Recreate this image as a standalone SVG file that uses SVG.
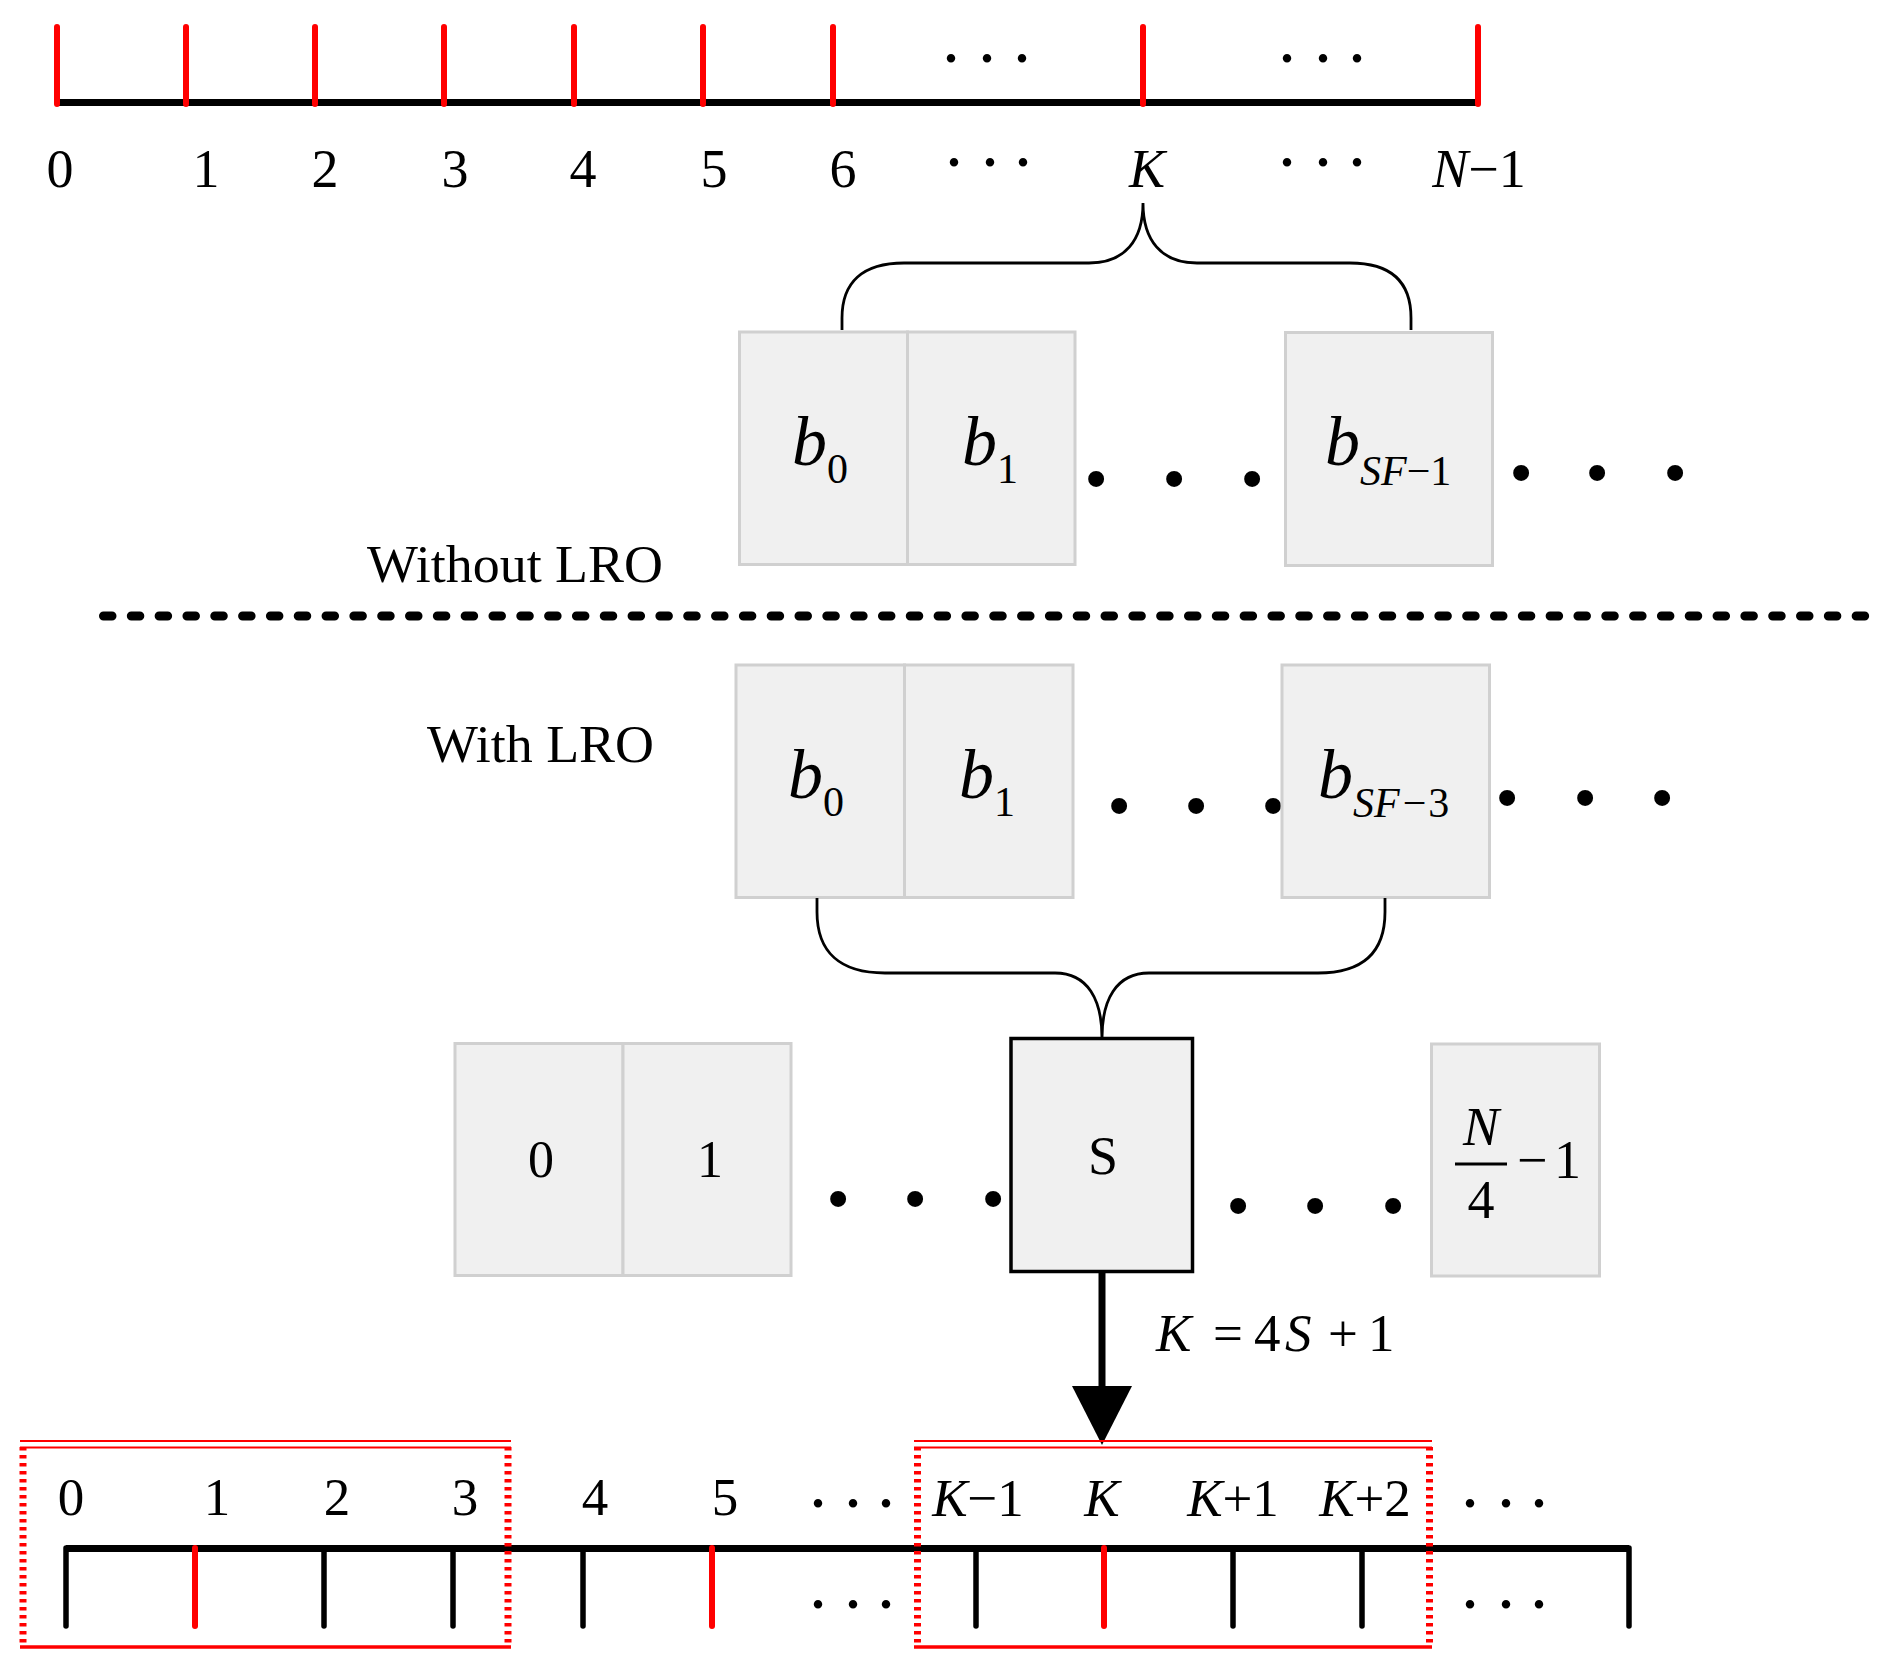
<svg xmlns="http://www.w3.org/2000/svg" width="1888" height="1670" viewBox="0 0 1888 1670">
<defs>
<style>
text{font-family:"Liberation Serif","Times New Roman",serif;fill:#000}
.it{font-style:italic}
.lbl{font-size:54px;text-anchor:middle}
.blbl{font-size:53px;text-anchor:middle}
.cell{fill:#f0f0f0;stroke:#d0d0d0;stroke-width:3}
.scell{fill:#f0f0f0;stroke:#000;stroke-width:3.5}
.axis{stroke:#000;stroke-width:7;fill:none}
.rt{stroke:#ff0000;stroke-width:6;stroke-linecap:round}
.bt{stroke:#000;stroke-width:5.5;stroke-linecap:round}
.brace{fill:none;stroke:#000;stroke-width:2.8}
.sdot{font-size:72px;text-anchor:middle}
.bdot{font-size:135px;text-anchor:middle}
.bsym{font-size:70px;font-style:italic}
.sub{font-size:42px;font-style:normal}
.cnum{font-size:52px;text-anchor:middle}
.red{stroke:#ff0000;fill:none}
.redv{stroke:#ff0000;stroke-width:7;stroke-dasharray:3.5 4.5}
.note{font-size:53px}
</style>
<marker id="ah" markerUnits="userSpaceOnUse" markerWidth="60" markerHeight="60" viewBox="0 0 59 60" refX="0" refY="30" orient="auto">
<path d="M0,0 L59,30 L0,60 z" fill="#000"/>
</marker>
</defs>
<rect width="1888" height="1670" fill="#fff"/>

<g id="top-axis">
<line class="axis" x1="57" y1="102.5" x2="1478" y2="102.5"/>
<line class="rt" x1="57" y1="27" x2="57" y2="104"/>
<line class="rt" x1="186" y1="27" x2="186" y2="104"/>
<line class="rt" x1="315" y1="27" x2="315" y2="104"/>
<line class="rt" x1="444" y1="27" x2="444" y2="104"/>
<line class="rt" x1="574" y1="27" x2="574" y2="104"/>
<line class="rt" x1="703" y1="27" x2="703" y2="104"/>
<line class="rt" x1="833" y1="27" x2="833" y2="104"/>
<line class="rt" x1="1143" y1="27" x2="1143" y2="104"/>
<line class="rt" x1="1478" y1="27" x2="1478" y2="104"/>
<text class="sdot" x="951 987 1022" y="61.5">...</text>
<text class="sdot" x="1287 1323 1357" y="61.5">...</text>
<text class="lbl" x="60" y="187">0</text>
<text class="lbl" x="206" y="187">1</text>
<text class="lbl" x="325" y="187">2</text>
<text class="lbl" x="455" y="187">3</text>
<text class="lbl" x="583" y="187">4</text>
<text class="lbl" x="714" y="187">5</text>
<text class="lbl" x="843" y="187">6</text>
<text class="sdot" x="954 990 1023" y="165.5">...</text>
<text class="lbl it" x="1147" y="187">K</text>
<text class="sdot" x="1287 1323 1357" y="165.5">...</text>
<text class="lbl" x="1479" y="187"><tspan class="it">N</tspan>−1</text>
</g>

<g id="row1-b0">
<rect class="cell" x="739.5" y="332" width="168" height="232.5"/>
<text class="bsym" x="792" y="465">b<tspan class="sub" x="827" dy="18">0</tspan></text>
</g>
<g id="row1-b1">
<rect class="cell" x="907.5" y="332" width="167.5" height="232.5"/>
<text class="bsym" x="962" y="465">b<tspan class="sub" x="997" dy="18">1</tspan></text>
</g>
<text class="bdot" x="1096 1174 1252" y="484.5">...</text>
<g id="row1-bSF-1">
<rect class="cell" x="1285.5" y="332.5" width="207" height="233"/>
<text class="bsym" x="1325" y="465">b<tspan class="sub" x="1360" dy="20"><tspan class="it">SF</tspan>−1</tspan></text>
</g>
<text class="bdot" x="1521 1597 1675" y="478.5">...</text>

<text id="label-without" class="note" x="367" y="582" textLength="296" lengthAdjust="spacingAndGlyphs">Without LRO</text>
<line id="separator" x1="103.5" y1="616" x2="1870" y2="616" stroke="#000" stroke-width="9" stroke-linecap="round" stroke-dasharray="8.5 19.32"/>
<text id="label-with" class="note" x="427" y="762" textLength="227" lengthAdjust="spacingAndGlyphs">With LRO</text>

<g id="row2-b0">
<rect class="cell" x="736" y="665" width="168.5" height="232.5"/>
<text class="bsym" x="788" y="798">b<tspan class="sub" x="823" dy="18">0</tspan></text>
</g>
<g id="row2-b1">
<rect class="cell" x="904.5" y="665" width="168.5" height="232.5"/>
<text class="bsym" x="959" y="798">b<tspan class="sub" x="994" dy="18">1</tspan></text>
</g>
<text class="bdot" x="1119 1196 1273" y="811.5">...</text>
<g id="row2-bSF-3">
<rect class="cell" x="1282" y="665" width="207.5" height="232.5"/>
<text class="bsym" x="1318" y="798">b<tspan class="sub" x="1353" dy="18.5"><tspan class="it">SF</tspan><tspan dx="3">−</tspan><tspan dx="2">3</tspan></tspan></text>
</g>
<text class="bdot" x="1507 1585 1662" y="803.5">...</text>

<g id="row3-0">
<rect class="cell" x="455" y="1043.5" width="168" height="232"/>
<text class="cnum" x="541" y="1177">0</text>
</g>
<g id="row3-1">
<rect class="cell" x="623" y="1043.5" width="168" height="232"/>
<text class="cnum" x="710" y="1177">1</text>
</g>
<text class="bdot" x="838 915 993" y="1204.5">...</text>
<g id="row3-S">
<rect class="scell" x="1011" y="1038.5" width="181.5" height="233"/>
<text class="lbl" x="1103" y="1174">S</text>
</g>
<text class="bdot" x="1238 1315 1393" y="1211.5">...</text>
<g id="row3-last">
<rect class="cell" x="1431.5" y="1044" width="168" height="232"/>
<text class="lbl it" x="1481" y="1145">N</text>
<line x1="1455" y1="1164" x2="1507" y2="1164" stroke="#000" stroke-width="3.2"/>
<text class="lbl" x="1481" y="1218">4</text>
<text style="font-size:54px" x="1517" y="1178">−<tspan x="1554">1</tspan></text>
</g>

<g id="connectors">
<path class="brace" d="M842,330 L842,318 C842,283 862,263 904,263 L1089,263 C1125,263 1143,240 1143,203 C1143,240 1161,263 1197,263 L1350,263 C1392,263 1411,283 1411,318 L1411,330"/>
<path class="brace" d="M817,898 L817,912 C817,952 840,973 885,973 L1055,973 C1088,973 1102,1000 1102,1038 C1102,1000 1116,973 1149,973 L1318,973 C1363,973 1385,952 1385,912 L1385,898"/>
<line x1="1102" y1="1272" x2="1102" y2="1386" stroke="#000" stroke-width="7" marker-end="url(#ah)"/>
</g>
<text id="formula" class="note" y="1351"><tspan class="it" x="1156">K</tspan><tspan x="1213">=</tspan><tspan x="1254">4</tspan><tspan class="it" x="1285">S</tspan><tspan x="1328">+</tspan><tspan x="1368">1</tspan></text>

<g id="bottom-axis">
<line class="axis" x1="66" y1="1548.5" x2="1629" y2="1548.5"/>
<line class="bt" x1="66" y1="1548" x2="66" y2="1626"/>
<line class="rt" x1="195" y1="1548" x2="195" y2="1626"/>
<line class="bt" x1="324" y1="1548" x2="324" y2="1626"/>
<line class="bt" x1="453" y1="1548" x2="453" y2="1626"/>
<line class="bt" x1="583" y1="1548" x2="583" y2="1626"/>
<line class="rt" x1="712" y1="1548" x2="712" y2="1626"/>
<line class="bt" x1="976" y1="1548" x2="976" y2="1626"/>
<line class="rt" x1="1104" y1="1548" x2="1104" y2="1626"/>
<line class="bt" x1="1233" y1="1548" x2="1233" y2="1626"/>
<line class="bt" x1="1362" y1="1548" x2="1362" y2="1626"/>
<line class="bt" x1="1629" y1="1548" x2="1629" y2="1626"/>
<text class="blbl" x="71" y="1515">0</text>
<text class="blbl" x="217" y="1515">1</text>
<text class="blbl" x="337" y="1515">2</text>
<text class="blbl" x="465" y="1515">3</text>
<text class="blbl" x="595" y="1515">4</text>
<text class="blbl" x="725" y="1515">5</text>
<text class="sdot" x="818 853 886" y="1506.5">...</text>
<text class="blbl" x="978" y="1516"><tspan class="it">K</tspan>−1</text>
<text class="blbl it" x="1102" y="1516">K</text>
<text class="blbl" x="1233" y="1516"><tspan class="it">K</tspan>+1</text>
<text class="blbl" x="1365" y="1516"><tspan class="it">K</tspan>+2</text>
<text class="sdot" x="1470 1506 1539" y="1506.5">...</text>
<text class="sdot" x="818 853 886" y="1607.5">...</text>
<text class="sdot" x="1470 1506 1539" y="1607.5">...</text>
</g>

<g id="highlight-left">
<line class="red" x1="20" y1="1441" x2="511" y2="1441" stroke-width="2"/>
<line class="red" x1="20" y1="1447.5" x2="511" y2="1447.5" stroke-width="2"/>
<line class="redv" x1="23" y1="1447" x2="23" y2="1647"/>
<line class="redv" x1="508" y1="1447" x2="508" y2="1647"/>
<line class="red" x1="20" y1="1647" x2="511" y2="1647" stroke-width="3.5"/>
</g>
<g id="highlight-right">
<line class="red" x1="914" y1="1441" x2="1432" y2="1441" stroke-width="2"/>
<line class="red" x1="914" y1="1447.5" x2="1432" y2="1447.5" stroke-width="2"/>
<line class="redv" x1="917.5" y1="1447" x2="917.5" y2="1647"/>
<line class="redv" x1="1429.5" y1="1447" x2="1429.5" y2="1647"/>
<line class="red" x1="914" y1="1647" x2="1432" y2="1647" stroke-width="3.5"/>
</g>
</svg>
